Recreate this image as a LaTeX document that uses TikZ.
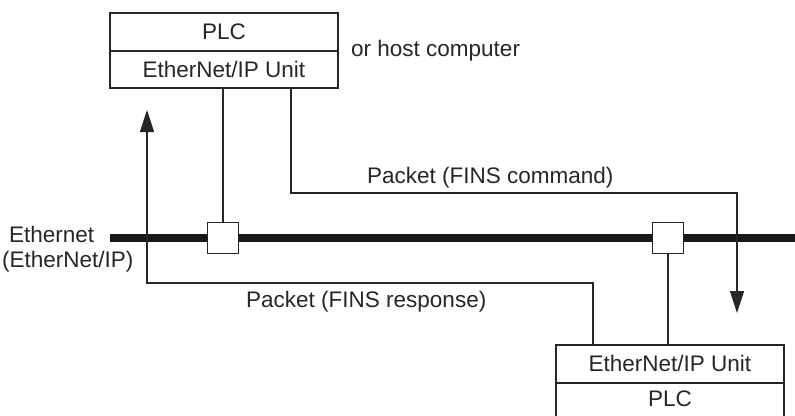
\documentclass[tikz,border=0pt]{standalone}
\usepackage{fontspec}
\setmainfont{Liberation Sans}
\usetikzlibrary{arrows.meta}
\begin{document}
\begin{tikzpicture}[x=1pt,y=-1pt,
  every node/.style={font=\fontsize{22.5}{26}\selectfont, text=black!85},
  boxpart/.style={draw=black!85, line width=1.8pt, minimum width=228pt, inner sep=0pt, anchor=north west},
  tap/.style={draw=black!85, fill=white, line width=1.6pt, minimum size=31pt, inner sep=0pt},
  wire/.style={draw=black!85, line width=1.5pt},
  msg/.style={wire, -{Triangle[length=22pt,width=14pt]}},
  lbl/.style={inner sep=0pt, anchor=west}]
\useasboundingbox (0,0) rectangle (795,415);
\clip (0,0) rectangle (795,415);
% top station
\node[boxpart, minimum height=38pt] (plcA) at (109,12) {PLC};
\node[boxpart, minimum height=37pt] (unitA) at (109,50) {EtherNet/IP Unit};
\node[lbl] (host) at (351,51) {or host computer};
% bottom station
\node[boxpart, minimum height=38pt] (unitB) at (555,344) {EtherNet/IP Unit};
\node[boxpart, minimum height=40pt, text depth=8pt] (plcB) at (555,382) {PLC};
% ethernet
\coordinate (busL) at (110,238);
\coordinate (busR) at (800,238);
\draw[black!90, line width=8pt] (busL) -- (busR);
\node[tap] (tapA) at (223,238) {};
\node[tap] (tapB) at (668,238) {};
\node[lbl] (eth1) at (9,234) {Ethernet};
\node[lbl] (eth2) at (2,262) {(EtherNet/IP)};
% drops
\draw[wire] (unitA.south -| tapA) -- (tapA.north);
\draw[wire] (tapB.south) -- (unitB.north -| tapB);
% command
\coordinate (cmdS) at (291,87);
\coordinate (cmdE) at (737,313);
\draw[msg] (cmdS) |- (737,193) -- (cmdE);
\node[lbl] (cmdL) at (367,178) {Packet (FINS command)};
% response
\coordinate (rspS) at (593,344);
\coordinate (rspE) at (147,110);
\draw[msg] (rspS) |- (147,283) -- (rspE);
\node[lbl] (rspL) at (246,302) {Packet (FINS response)};
\end{tikzpicture}
\end{document}
